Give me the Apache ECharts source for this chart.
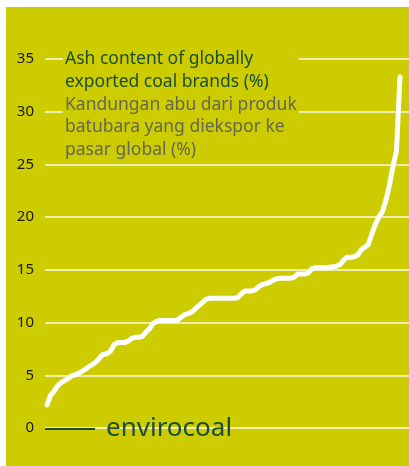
<!DOCTYPE html>
<html>
<head>
<meta charset="utf-8">
<script src="https://cdn.jsdelivr.net/npm/echarts@6/dist/echarts.min.js"></script>
<style>
  html, body { margin: 0; padding: 0; background: #ffffff; }
  #chart { position: absolute; left: 6px; top: 7px; width: 403px; height: 459px; background: #cccc00; }
</style>
</head>
<body>
<div id="chart"></div>
<script>
// ash content (%) of exported coal brands, sorted low to high
var ashContent = [
  2.2, 3.1, 3.5, 4.0, 4.3, 4.5, 4.7, 4.95, 5.05, 5.2,
  5.4, 5.6, 5.85, 6.05, 6.3, 6.7, 7.0, 7.05, 7.3, 7.9,
  8.1, 8.1, 8.1, 8.25, 8.5, 8.6, 8.6, 8.7, 9.1, 9.4,
  9.9, 10.1, 10.2, 10.2, 10.2, 10.2, 10.2, 10.25, 10.5, 10.75,
  10.85, 11.0, 11.3, 11.6, 11.9, 12.2, 12.3, 12.3, 12.3, 12.3,
  12.3, 12.3, 12.3, 12.3, 12.35, 12.7, 13.0, 13.0, 13.0, 13.1,
  13.4, 13.6, 13.7, 13.8, 14.0, 14.15, 14.2, 14.2, 14.2, 14.2,
  14.3, 14.6, 14.6, 14.6, 14.7, 15.1, 15.2, 15.2, 15.2, 15.2,
  15.25, 15.3, 15.35, 15.5, 15.9, 16.2, 16.2, 16.25, 16.4, 16.9,
  17.15, 17.4, 18.4, 19.3, 20.0, 20.5, 21.6, 23.0, 24.8, 26.3,
  33.3
];
var yTicks = [0, 5, 10, 15, 20, 25, 30, 35];
var titleEn = 'Ash content of globally\nexported coal brands (%)';
var titleId = 'Kandungan abu dari produk\nbatubara yang diekspor ke\npasar global (%)';
var legendName = 'envirocoal';

var bg = '#cccc00';
var font = 'Noto Sans';

var chart = echarts.init(document.getElementById('chart'));
var lineData = ashContent.map(function (v, i) { return [i, v]; });

chart.setOption({
  animation: false,
  textStyle: { fontFamily: font },
  grid: { left: 39, right: 0, top: 52, bottom: 38 },
  title: {
    text: titleEn,
    subtext: titleId,
    left: 57,
    top: 39,
    padding: [2, 2, 0, 2],
    itemGap: 0,
    backgroundColor: bg,
    textStyle: { color: '#1b4d33', fontSize: 17.5, fontWeight: 'normal', lineHeight: 22.7, fontFamily: font },
    subtextStyle: { color: '#666655', fontSize: 17.5, lineHeight: 22.7, fontFamily: font }
  },
  legend: {
    data: [legendName],
    left: 39,
    bottom: 24,
    padding: 0,
    icon: 'rect',
    itemWidth: 50,
    itemHeight: 2,
    textStyle: { color: '#1b4d3a', fontSize: 26, fontFamily: font, padding: [0, 0, 0, 6] }
  },
  xAxis: {
    type: 'value',
    min: -0.57,
    max: 102.55,
    show: false
  },
  yAxis: {
    type: 'value',
    min: yTicks[0],
    max: yTicks[yTicks.length - 1],
    interval: 5,
    axisLine: { show: false },
    axisTick: { show: false },
    axisLabel: { color: '#1a1a1a', fontSize: 15, margin: 11, fontFamily: font },
    splitLine: { lineStyle: { color: 'rgba(255,255,255,0.9)', width: 1.5 } }
  },
  series: [
    {
      name: 'ash',
      type: 'line',
      data: lineData,
      showSymbol: false,
      symbol: 'none',
      z: 1,
      lineStyle: { color: '#ffffff', width: 5, cap: 'round', join: 'round' }
    },
    {
      name: legendName,
      type: 'line',
      data: [],
      itemStyle: { color: '#1b4a4a' },
      lineStyle: { color: '#1b4a4a' }
    }
  ]
});
</script>
</body>
</html>
